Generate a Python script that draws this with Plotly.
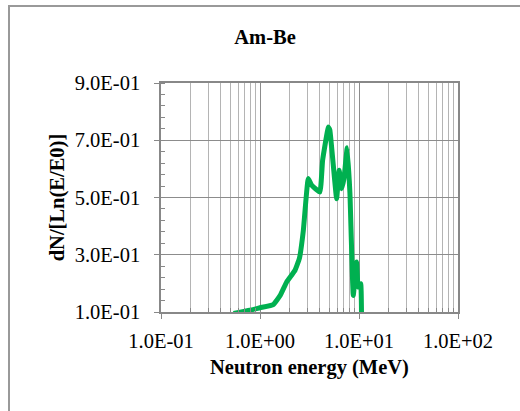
import plotly.graph_objects as go

energy_mev = [0.54, 0.79, 1.0, 1.36, 1.6, 1.86, 2.26, 2.5, 2.74, 3.07, 3.32, 4.03, 4.29,
              4.9, 5.08, 5.94, 6.31, 6.68, 7.05, 7.6, 8.1, 8.75, 9.46, 9.8, 10.4, 10.6]
dn_dlnE = [0.095, 0.106, 0.115, 0.126, 0.158, 0.205, 0.246, 0.287, 0.385, 0.566, 0.543, 0.519, 0.63,
           0.746, 0.735, 0.496, 0.595, 0.531, 0.566, 0.674, 0.514, 0.158, 0.275, 0.187, 0.199, 0.095]

x_ticks = [0.1, 1, 10, 100]
x_ticktext = ["1.0E-01", "1.0E+00", "1.0E+01", "1.0E+02"]
y_ticks = [0.1, 0.3, 0.5, 0.7, 0.9]
y_ticktext = ["1.0E-01", "3.0E-01", "5.0E-01", "7.0E-01", "9.0E-01"]

x_minor = [m * d for d in [0.1, 1, 10] for m in range(2, 10)]

font = "Liberation Serif"
fs = 20.5

fig = go.Figure()
fig.add_trace(go.Scatter(x=energy_mev, y=dn_dlnE, mode="lines",
                         line=dict(color="#00B050", width=5, shape="spline", smoothing=0.3),
                         showlegend=False, hoverinfo="skip"))

fig.update_layout(
    width=520, height=411,
    margin=dict(l=161, r=62, t=83, b=99),
    paper_bgcolor="white", plot_bgcolor="white",
    font=dict(family=font, size=fs, color="black"),
    title=dict(text="<b>Am-Be</b>", x=265 / 520, xanchor="center",
               y=1 - 37 / 411, yanchor="middle", font=dict(family=font, size=fs, color="black")),
    xaxis=dict(type="log", range=[-1, 2], autorange=False,
               tickmode="array", tickvals=x_ticks, ticktext=x_ticktext,
               ticks="outside", ticklen=5, tickcolor="#888888", tickwidth=1,
               ticklabelstandoff=5,
               showline=True, linecolor="#888888", linewidth=1.5, mirror=True,
               showgrid=True, gridcolor="#8c8c8c", gridwidth=1,
               minor=dict(tickmode="array", tickvals=x_minor, ticks="inside", ticklen=4,
                          tickcolor="#888888", showgrid=True, gridcolor="#b4b4b4", gridwidth=1),
               tickfont=dict(family=font, size=fs, color="black"),
               title=dict(text="<b>Neutron energy (MeV)</b>", standoff=8,
                          font=dict(family=font, size=fs, color="black")),
               zeroline=False),
    yaxis=dict(range=[0.1, 0.9], autorange=False,
               tickmode="array", tickvals=y_ticks, ticktext=y_ticktext,
               ticks="outside", ticklen=5, tickcolor="#888888", tickwidth=1,
               ticklabelstandoff=10,
               showline=True, linecolor="#888888", linewidth=1.5, mirror=True,
               showgrid=True, gridcolor="#8c8c8c", gridwidth=1,
               minor=dict(dtick=0.04, tick0=0.1, ticks="inside", ticklen=4,
                          tickcolor="#888888", showgrid=False),
               tickfont=dict(family=font, size=fs, color="black"),
               title=dict(text="<b>dN/[Ln(E/E0)]</b>", standoff=4,
                          font=dict(family=font, size=fs, color="black")),
               zeroline=False),
    shapes=[dict(type="rect", xref="paper", yref="paper", xsizemode="pixel", ysizemode="pixel",
                 xanchor=0, yanchor=1, x0=-152, x1=420, y0=-420, y1=77,
                 line=dict(color="#999999", width=2), fillcolor="rgba(0,0,0,0)", layer="below")],
)

fig.write_html("out.html", config={"displayModeBar": False},
               post_script="document.body.style.margin='0';")
